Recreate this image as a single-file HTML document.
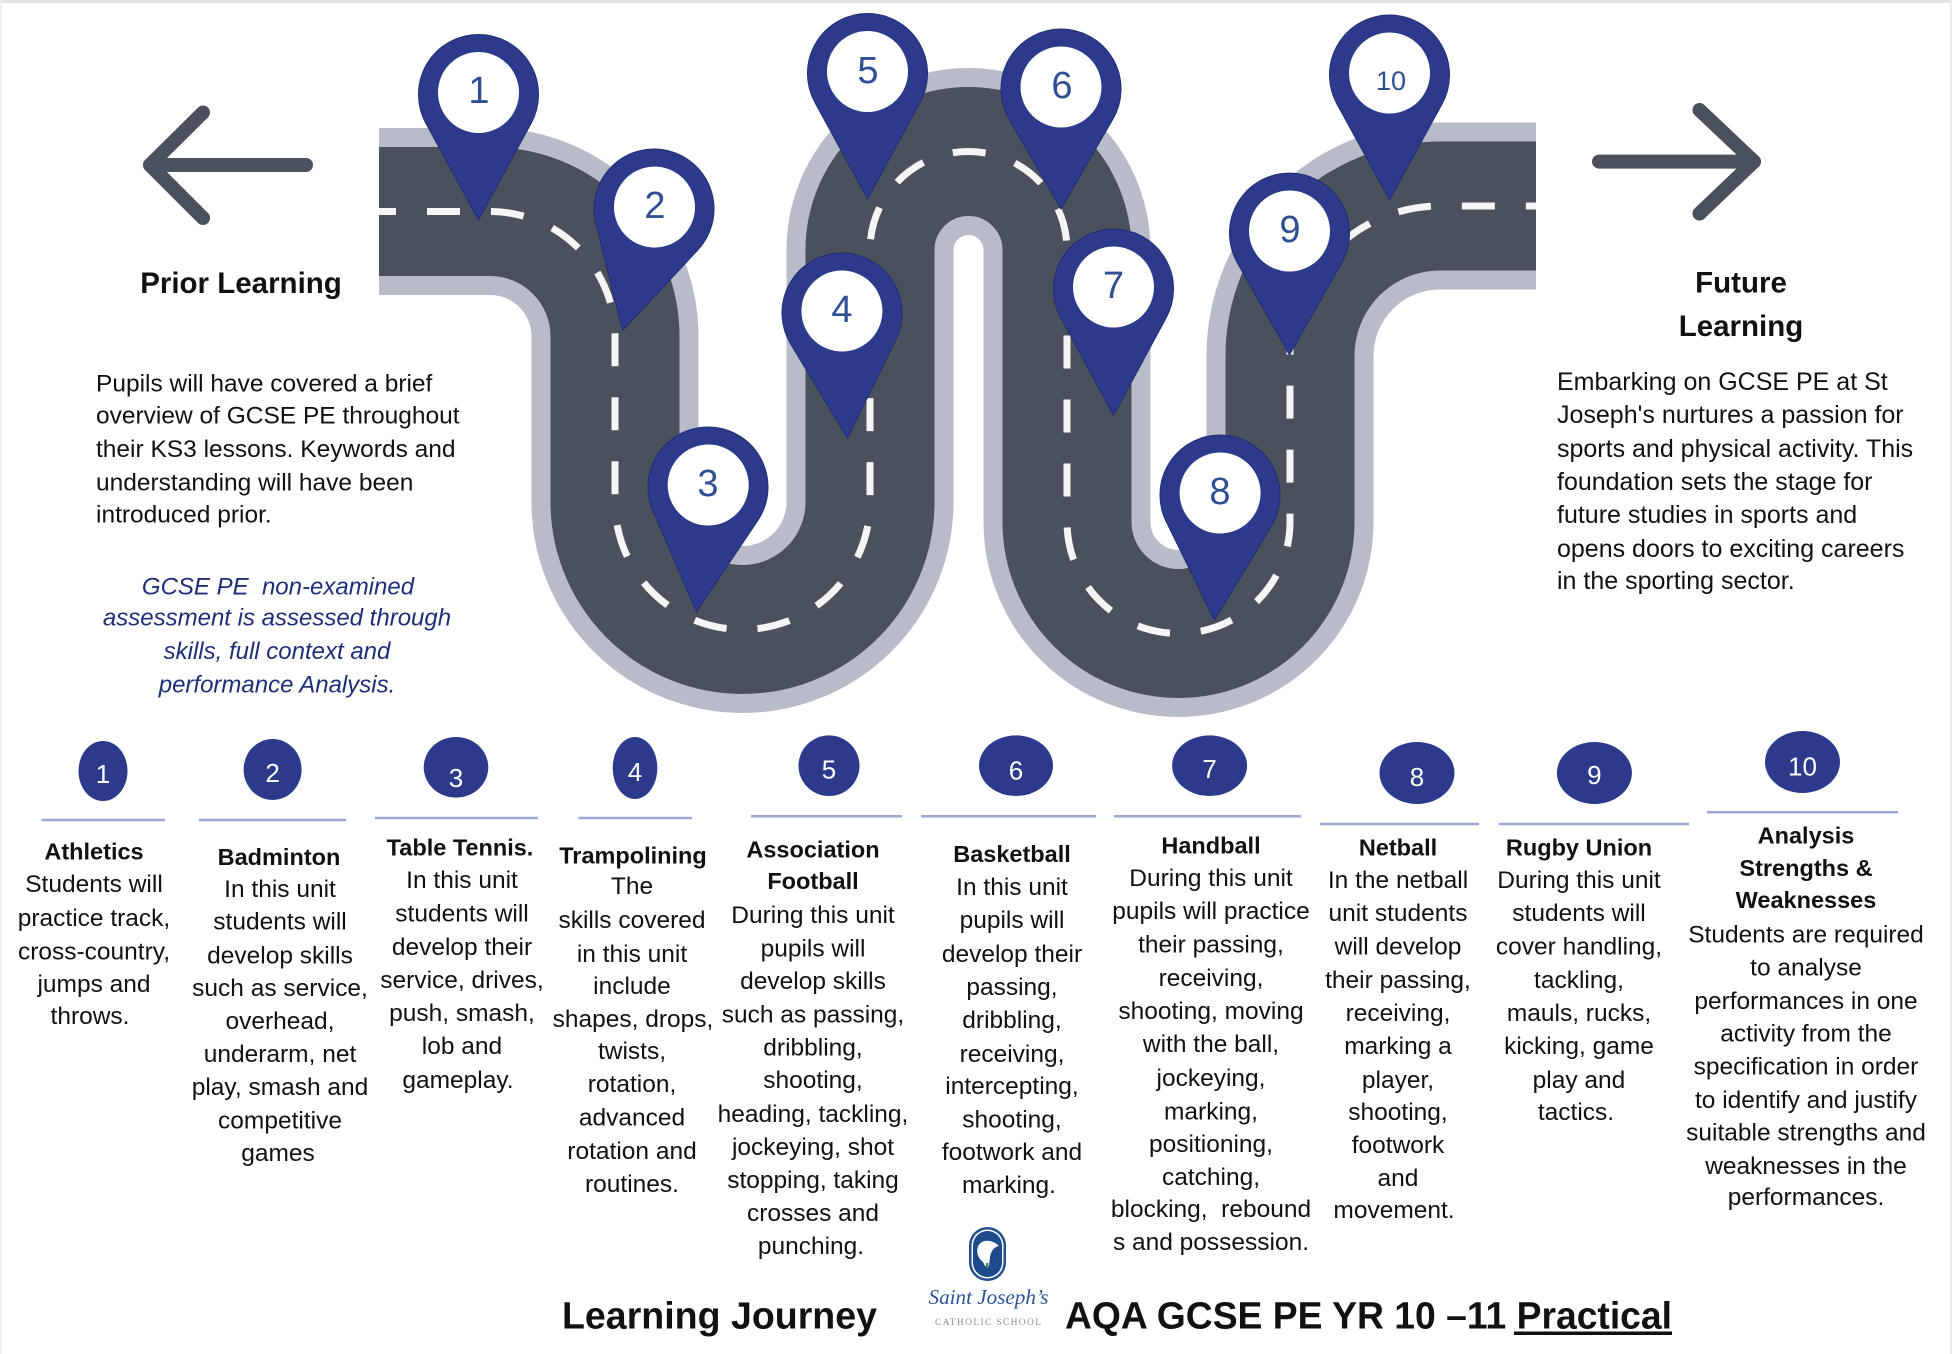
<!DOCTYPE html>
<html>
<head>
<meta charset="utf-8">
<style>
html,body{margin:0;padding:0;background:#ffffff;}
body{width:1952px;height:1354px;overflow:hidden;position:relative;}
svg{position:absolute;left:0;top:0;}
</style>
</head>
<body>
<svg width="1952" height="1354" viewBox="0 0 1952 1354" xmlns="http://www.w3.org/2000/svg">
  <rect x="0" y="0" width="1952" height="1354" fill="#ffffff"/>
  <!-- faint frame -->
  <rect x="0" y="0" width="1952" height="3" fill="#e3e3e3"/>
  <rect x="0" y="0" width="1.5" height="1354" fill="#ececec"/>
  <rect x="1950" y="0" width="2" height="1354" fill="#ececec"/>

  <!-- ROAD -->
  <g fill="none" stroke-linejoin="round">
    <path d="M379 211.5 H490 A125 125 0 0 1 615 336.5 V502 A127.5 127.5 0 0 0 870 502 V250 A98.5 98.5 0 0 1 1067 250 V522 A111.5 111.5 0 0 0 1290 522 V356 A150 150 0 0 1 1440 206 H1536" stroke="#b8bcc8" stroke-width="167" stroke-linecap="butt"/>
    <path d="M379 211.5 H490 A125 125 0 0 1 615 336.5 V502 A127.5 127.5 0 0 0 870 502 V250 A98.5 98.5 0 0 1 1067 250 V522 A111.5 111.5 0 0 0 1290 522 V356 A150 150 0 0 1 1440 206 H1536" stroke="#4b515c" stroke-width="129" stroke-linecap="butt"/>
    <path d="M379 211.5 H490 A125 125 0 0 1 615 336.5 V502 A127.5 127.5 0 0 0 870 502 V250 A98.5 98.5 0 0 1 1067 250 V522 A111.5 111.5 0 0 0 1290 522 V356 A150 150 0 0 1 1440 206 H1536" stroke="#f5f5f5" stroke-width="7" stroke-dasharray="33 31" stroke-dashoffset="16"/>
  </g>

  <!-- ARROWS -->
  <g fill="none" stroke="#4b515c" stroke-width="14" stroke-linecap="round" stroke-linejoin="round">
    <line x1="150" y1="165" x2="306" y2="165"/>
    <polyline points="203,112.5 150,165 203,218"/>
    <line x1="1599" y1="161.6" x2="1754" y2="161.6"/>
    <polyline points="1699.5,110 1754,161.6 1699.5,213.5"/>
  </g>

  <!-- PINS -->
  <g fill="#2c3a8c" stroke="#222d72" stroke-width="1">
    <g transform="translate(478.5,94.5)"><path d="M0 125.5 L-52.7 28.7 A60 60 0 1 1 52.7 28.7 Z"/><circle cx="0" cy="-2" r="40.5" fill="#ffffff" stroke="none"/></g>
    <g transform="translate(654,209) rotate(14.5)"><path d="M0 125.5 L-52.7 28.7 A60 60 0 1 1 52.7 28.7 Z"/><circle cx="0" cy="-2" r="40.5" fill="#ffffff" stroke="none"/></g>
    <g transform="translate(708,487) rotate(5.3)"><path d="M0 125.5 L-52.7 28.7 A60 60 0 1 1 52.7 28.7 Z"/><circle cx="0" cy="-2" r="40.5" fill="#ffffff" stroke="none"/></g>
    <g transform="translate(842,313) rotate(-2.5)"><path d="M0 125.5 L-52.7 28.7 A60 60 0 1 1 52.7 28.7 Z"/><circle cx="0" cy="-2" r="40.5" fill="#ffffff" stroke="none"/></g>
    <g transform="translate(867.5,73.5)"><path d="M0 125.5 L-52.7 28.7 A60 60 0 1 1 52.7 28.7 Z"/><circle cx="0" cy="-2" r="40.5" fill="#ffffff" stroke="none"/></g>
    <g transform="translate(1061,89)"><path d="M0 120 L-52.2 29.6 A60 60 0 1 1 52.2 29.6 Z"/><circle cx="0" cy="-2" r="40.5" fill="#ffffff" stroke="none"/></g>
    <g transform="translate(1113.5,289)"><path d="M0 126.5 L-52.7 28.7 A60 60 0 1 1 52.7 28.7 Z"/><circle cx="0" cy="-2" r="40.5" fill="#ffffff" stroke="none"/></g>
    <g transform="translate(1220,495) rotate(2.5)"><path d="M0 125.5 L-52.7 28.7 A60 60 0 1 1 52.7 28.7 Z"/><circle cx="0" cy="-2" r="40.5" fill="#ffffff" stroke="none"/></g>
    <g transform="translate(1289.5,233)"><path d="M0 122 L-52.5 29.2 A60 60 0 1 1 52.5 29.2 Z"/><circle cx="0" cy="-2" r="40.5" fill="#ffffff" stroke="none"/></g>
    <g transform="translate(1389.5,75)"><path d="M0 125 L-52.7 28.7 A60 60 0 1 1 52.7 28.7 Z"/><circle cx="0" cy="-2" r="40.5" fill="#ffffff" stroke="none"/></g>
  </g>
  <g font-family="'Liberation Sans', Arial, sans-serif" font-size="38" fill="#2f4e94" text-anchor="middle">
    <text x="479" y="103">1</text>
    <text x="655" y="218">2</text>
    <text x="708" y="496">3</text>
    <text x="842" y="322">4</text>
    <text x="868" y="83">5</text>
    <text x="1062" y="98">6</text>
    <text x="1113.5" y="298">7</text>
    <text x="1220" y="504">8</text>
    <text x="1290" y="242">9</text>
    <text x="1391" y="90" font-size="27">10</text>
  </g>

  <!-- SIDE TEXTS -->
  <g font-family="'Liberation Sans', Arial, sans-serif" fill="#111111">
    <text x="241" y="293" font-size="29.5" font-weight="bold" text-anchor="middle">Prior Learning</text>
    <g font-size="24.5">
      <text x="96" y="391.6">Pupils will have covered a brief</text>
      <text x="96" y="423.3">overview of GCSE PE throughout</text>
      <text x="96" y="456.8">their KS3 lessons. Keywords and</text>
      <text x="96" y="490.3">understanding will have been</text>
      <text x="96" y="522.5">introduced prior.</text>
    </g>
    <g font-size="24" font-style="italic" fill="#1f2e78" text-anchor="middle">
      <text x="278" y="594.6" xml:space="preserve">GCSE PE  non-examined</text>
      <text x="277" y="625.3">assessment is assessed through</text>
      <text x="277" y="658.9">skills, full context and</text>
      <text x="277" y="692.4">performance Analysis.</text>
    </g>
    <text x="1741" y="292.5" font-size="29.5" font-weight="bold" text-anchor="middle">Future</text>
    <text x="1741" y="336" font-size="29.5" font-weight="bold" text-anchor="middle">Learning</text>
    <g font-size="25">
      <text x="1557" y="390">Embarking on GCSE PE at St</text>
      <text x="1557" y="423">Joseph's nurtures a passion for</text>
      <text x="1557" y="457">sports and physical activity. This</text>
      <text x="1557" y="490">foundation sets the stage for</text>
      <text x="1557" y="523">future studies in sports and</text>
      <text x="1557" y="557">opens doors to exciting careers</text>
      <text x="1557" y="589">in the sporting sector.</text>
    </g>
  </g>

  <!-- BOTTOM OVALS -->
  <g fill="#2c3a8c">
    <ellipse cx="103" cy="771" rx="24.5" ry="30"/>
    <ellipse cx="272.6" cy="769.5" rx="29" ry="30.5"/>
    <ellipse cx="456" cy="767.3" rx="32.3" ry="30.3"/>
    <ellipse cx="635" cy="768" rx="22.3" ry="31"/>
    <ellipse cx="829" cy="765.7" rx="30.5" ry="30.3"/>
    <ellipse cx="1016" cy="765.7" rx="37" ry="30.3"/>
    <ellipse cx="1209.6" cy="765.7" rx="37.5" ry="30.3"/>
    <ellipse cx="1417" cy="773" rx="37.5" ry="31"/>
    <ellipse cx="1594.4" cy="773" rx="37.5" ry="31"/>
    <ellipse cx="1802.5" cy="762" rx="37.5" ry="31"/>
  </g>
  <g font-family="'Liberation Sans', Arial, sans-serif" font-size="26" fill="#ffffff" text-anchor="middle">
    <text x="103" y="783">1</text>
    <text x="272.6" y="782">2</text>
    <text x="456" y="787">3</text>
    <text x="635" y="781">4</text>
    <text x="829" y="778.7">5</text>
    <text x="1016" y="779.5">6</text>
    <text x="1209.6" y="778">7</text>
    <text x="1417" y="786">8</text>
    <text x="1594.4" y="784">9</text>
    <text x="1802.5" y="775.4">10</text>
  </g>
  <g stroke="#9ea8d6" stroke-width="2.5">
    <line x1="41.5" y1="820" x2="165" y2="820"/>
    <line x1="199" y1="820" x2="346" y2="820"/>
    <line x1="375" y1="818" x2="538" y2="818"/>
    <line x1="578.4" y1="818" x2="692" y2="818"/>
    <line x1="751" y1="816.2" x2="902" y2="816.2"/>
    <line x1="921" y1="816.2" x2="1096" y2="816.2"/>
    <line x1="1114" y1="816.2" x2="1301" y2="816.2"/>
    <line x1="1320" y1="824" x2="1479" y2="824"/>
    <line x1="1499" y1="824" x2="1689" y2="824"/>
    <line x1="1707" y1="812.2" x2="1898" y2="812.2"/>
  </g>

  <!-- COLUMN TEXT -->
  <g font-family="'Liberation Sans', Arial, sans-serif" fill="#111111" text-anchor="middle">
    <g font-size="23.5" font-weight="bold">
      <text x="94" y="859.5">Athletics</text>
      <text x="279" y="865">Badminton</text>
      <text x="460" y="855.5">Table Tennis.</text>
      <text x="633" y="863.5">Trampolining</text>
      <text x="813" y="857.5">Association</text>
      <text x="813" y="889">Football</text>
      <text x="1012" y="862">Basketball</text>
      <text x="1211" y="853.5">Handball</text>
      <text x="1398" y="855.5">Netball</text>
      <text x="1579" y="855.5">Rugby Union</text>
      <text x="1806" y="843.3">Analysis</text>
      <text x="1806" y="876">Strengths &amp;</text>
      <text x="1806" y="908">Weaknesses</text>
    </g>
    <g font-size="24.5">
      <text x="94" y="892">Students will</text>
      <text x="94" y="926">practice track,</text>
      <text x="94" y="959.5">cross-country,</text>
      <text x="94" y="992">jumps and</text>
      <text x="90" y="1024">throws.</text>

      <text x="280" y="897">In this unit</text>
      <text x="280" y="929.5">students will</text>
      <text x="280" y="963.5">develop skills</text>
      <text x="280" y="996">such as service,</text>
      <text x="280" y="1029">overhead,</text>
      <text x="280" y="1062">underarm, net</text>
      <text x="280" y="1095">play, smash and</text>
      <text x="280" y="1128.5">competitive</text>
      <text x="278" y="1161">games</text>

      <text x="462" y="888">In this unit</text>
      <text x="462" y="921.5">students will</text>
      <text x="462" y="955">develop their</text>
      <text x="462" y="988">service, drives,</text>
      <text x="462" y="1021">push, smash,</text>
      <text x="462" y="1054">lob and</text>
      <text x="458" y="1088">gameplay.</text>

      <text x="632" y="894">The</text>
      <text x="632" y="928">skills covered</text>
      <text x="632" y="962">in this unit</text>
      <text x="632" y="994">include</text>
      <text x="633" y="1027">shapes, drops,</text>
      <text x="632" y="1059">twists,</text>
      <text x="632" y="1092">rotation,</text>
      <text x="632" y="1125.5">advanced</text>
      <text x="632" y="1159">rotation and</text>
      <text x="632" y="1192">routines.</text>

      <text x="813" y="923">During this unit</text>
      <text x="813" y="956.5">pupils will</text>
      <text x="813" y="989">develop skills</text>
      <text x="813" y="1022.5">such as passing,</text>
      <text x="813" y="1055.5">dribbling,</text>
      <text x="813" y="1088">shooting,</text>
      <text x="813" y="1122">heading, tackling,</text>
      <text x="813" y="1155">jockeying, shot</text>
      <text x="813" y="1188">stopping, taking</text>
      <text x="813" y="1221">crosses and</text>
      <text x="811" y="1254">punching.</text>

      <text x="1012" y="895">In this unit</text>
      <text x="1012" y="928">pupils will</text>
      <text x="1012" y="962">develop their</text>
      <text x="1012" y="995">passing,</text>
      <text x="1012" y="1028">dribbling,</text>
      <text x="1012" y="1062">receiving,</text>
      <text x="1012" y="1094">intercepting,</text>
      <text x="1012" y="1127.5">shooting,</text>
      <text x="1012" y="1160">footwork and</text>
      <text x="1009" y="1193">marking.</text>

      <text x="1211" y="886">During this unit</text>
      <text x="1211" y="919">pupils will practice</text>
      <text x="1211" y="952.5">their passing,</text>
      <text x="1211" y="986">receiving,</text>
      <text x="1211" y="1019">shooting, moving</text>
      <text x="1211" y="1052">with the ball,</text>
      <text x="1211" y="1086">jockeying,</text>
      <text x="1211" y="1119.5">marking,</text>
      <text x="1211" y="1152">positioning,</text>
      <text x="1211" y="1185">catching,</text>
      <text x="1211" y="1217" xml:space="preserve">blocking,  rebound</text>
      <text x="1211" y="1250">s and possession.</text>

      <text x="1398" y="888">In the netball</text>
      <text x="1398" y="921">unit students</text>
      <text x="1398" y="954.5">will develop</text>
      <text x="1398" y="988">their passing,</text>
      <text x="1398" y="1021">receiving,</text>
      <text x="1398" y="1054">marking a</text>
      <text x="1398" y="1088">player,</text>
      <text x="1398" y="1120">shooting,</text>
      <text x="1398" y="1153">footwork</text>
      <text x="1398" y="1186">and</text>
      <text x="1394" y="1218">movement.</text>

      <text x="1579" y="888">During this unit</text>
      <text x="1579" y="921">students will</text>
      <text x="1579" y="954.5">cover handling,</text>
      <text x="1579" y="988">tackling,</text>
      <text x="1579" y="1021">mauls, rucks,</text>
      <text x="1579" y="1054">kicking, game</text>
      <text x="1579" y="1088">play and</text>
      <text x="1576" y="1120">tactics.</text>

      <text x="1806" y="942.5">Students are required</text>
      <text x="1806" y="975.5">to analyse</text>
      <text x="1806" y="1009">performances in one</text>
      <text x="1806" y="1041.5">activity from the</text>
      <text x="1806" y="1074.5">specification in order</text>
      <text x="1806" y="1108">to identify and justify</text>
      <text x="1806" y="1140.5">suitable strengths and</text>
      <text x="1806" y="1174">weaknesses in the</text>
      <text x="1806" y="1205">performances.</text>
    </g>
  </g>

  <!-- FOOTER -->
  <g font-family="'Liberation Sans', Arial, sans-serif" font-weight="bold" fill="#111111" font-size="38">
    <text x="562" y="1328.6" textLength="315" lengthAdjust="spacingAndGlyphs">Learning Journey</text>
    <text x="1065" y="1328.6" textLength="607" lengthAdjust="spacingAndGlyphs">AQA GCSE PE YR 10 –11 Practical</text>
  </g>
  <rect x="1514" y="1331.5" width="158" height="3.5" fill="#111111"/>

  <!-- LOGO -->
  <g>
    <rect x="969" y="1227" width="37" height="54" rx="18.5" ry="18.5" fill="#24508f"/>
    <rect x="971.5" y="1229.5" width="32" height="49" rx="16" ry="16" fill="#ffffff"/>
    <rect x="973" y="1231" width="29" height="46" rx="14.5" ry="14.5" fill="#1d4a8a"/>
    <path d="M983 1262 C975 1256 975 1243 985 1241 C991 1240 996 1243 999 1246 C994 1247 991 1251 990 1257 L989 1266 L985 1266 Z" fill="#ffffff"/>
    <rect x="986" y="1263" width="2.5" height="5" fill="#4f8a5a"/>
    <text x="988.5" y="1304" font-family="'Liberation Serif', 'DejaVu Serif', serif" font-style="italic" font-size="21" fill="#2b5597" text-anchor="middle" textLength="120" lengthAdjust="spacingAndGlyphs">Saint Joseph’s</text>
    <text x="988" y="1325" font-family="'Liberation Serif', 'DejaVu Serif', serif" font-size="9.5" fill="#8c8c8c" text-anchor="middle" textLength="106" lengthAdjust="spacing">CATHOLIC SCHOOL</text>
  </g>
</svg>
</body>
</html>
